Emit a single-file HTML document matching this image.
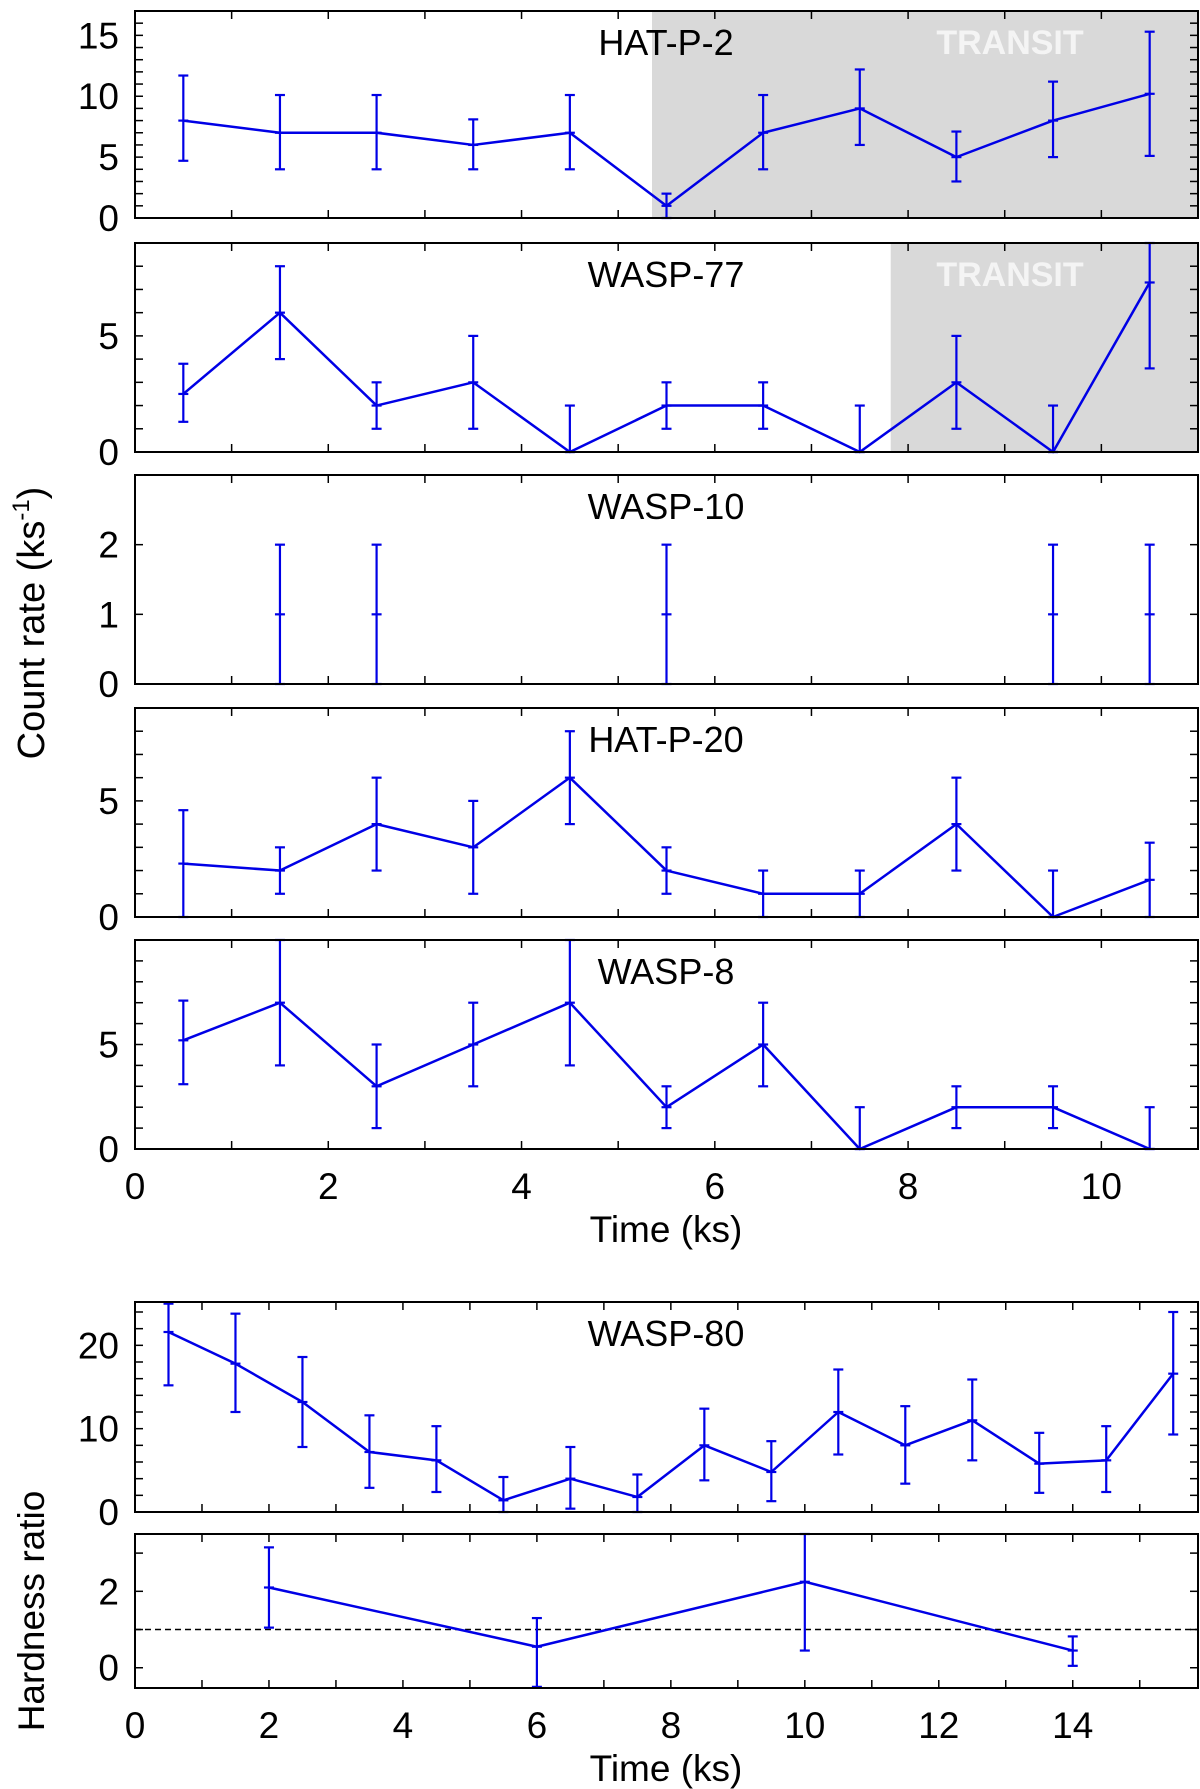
<!DOCTYPE html>
<html><head><meta charset="utf-8"><style>
html,body{margin:0;padding:0;background:#fff}
svg{display:block;font-family:"Liberation Sans",Helvetica,Arial,sans-serif}
</style></head><body>
<svg id="fig" width="1200" height="1789" viewBox="0 0 1200 1789" xmlns="http://www.w3.org/2000/svg">
<text transform="translate(44,623) rotate(-90)" text-anchor="middle" font-size="38">Count rate (ks<tspan dy="-15" font-size="24">-1</tspan><tspan dy="15">)</tspan></text>
<text transform="translate(44,1611) rotate(-90)" text-anchor="middle" font-size="37">Hardness ratio</text>
</svg>
<script>
const NS='http://www.w3.org/2000/svg';
const svg=document.getElementById('fig');
// ---- data ----
const xTop=[0.5,1.5,2.5,3.5,4.5,5.5,6.5,7.5,8.5,9.5,10.5];
const hatp2Y=[8,7,7,6,7,1,7,9,5,8,10.2];
const hatp2Lo=[4.7,4,4,4,4,0,4,6,3,5,5.1];
const hatp2Hi=[11.7,10.1,10.1,8.1,10.1,2,10.1,12.2,7.1,11.2,15.3];
const wasp77Y=[2.5,6,2,3,0,2,2,0,3,0,7.3];
const wasp77Lo=[1.3,4,1,1,0,1,1,0,1,0,3.6];
const wasp77Hi=[3.8,8,3,5,2,3,3,2,5,2,9];
const wasp10X=[1.5,2.5,5.5,9.5,10.5];
const wasp10Y=[1,1,1,1,1];
const wasp10Lo=[0,0,0,0,0];
const wasp10Hi=[2,2,2,2,2];
const hatp20Y=[2.3,2,4,3,6,2,1,1,4,0,1.6];
const hatp20Lo=[0,1,2,1,4,1,0,0,2,0,0];
const hatp20Hi=[4.6,3,6,5,8,3,2,2,6,2,3.2];
const wasp8Y=[5.2,7,3,5,7,2,5,0,2,2,0];
const wasp8Lo=[3.1,4,1,3,4,1,3,0,1,1,0];
const wasp8Hi=[7.1,10,5,7,10,3,7,2,3,3,2];
const xW80=[0.5,1.5,2.5,3.5,4.5,5.5,6.5,7.5,8.5,9.5,10.5,11.5,12.5,13.5,14.5,15.5];
const wasp80Y=[21.6,17.8,13.2,7.2,6.2,1.4,4,1.8,8,4.8,12,8,11,5.8,6.2,16.6];
const wasp80Lo=[15.2,12,7.8,2.9,2.4,0,0.4,0,3.8,1.3,6.9,3.4,6.2,2.3,2.4,9.3];
const wasp80Hi=[25,23.8,18.6,11.6,10.3,4.2,7.8,4.5,12.4,8.5,17.1,12.7,15.9,9.5,10.3,24];
const xHR=[2,6,10,14];
const hrY=[2.1,0.55,2.25,0.45];
const hrLo=[1.05,-0.5,0.45,0.05];
const hrHi=[3.15,1.3,3.5,0.82];
const topXTickLabels=['0','2','4','6','8','10'];
const botXTickLabels=['0','2','4','6','8','10','12','14'];

function el(tag,attrs,parent){const e=document.createElementNS(NS,tag);for(const k in attrs)e.setAttribute(k,attrs[k]);(parent||svg).appendChild(e);return e;}

function panel(o){
  const g=el('g',{});
  
  
  const X=v=>o.x0+(v-o.xmin)/(o.xmax-o.xmin)*(o.x1-o.x0);
  const Y=v=>o.y1-(v-o.ymin)/(o.ymax-o.ymin)*(o.y1-o.y0);
  if(o.shade!=null){
    const r=el('rect',{x:X(o.shade),y:o.y0,width:o.x1-X(o.shade),height:o.y1-o.y0,fill:'#d9d9d9'},g);
    
    
    const t=el('text',{x:1010,y:o.y0+43,'text-anchor':'middle','font-size':34,'font-weight':'bold',fill:'#f4f4f4'},g);
    t.textContent='TRANSIT';
    
    
  }
  for(let v=Math.ceil(o.xmin);v<=o.xmax;v+=1){
    const x=X(v);
    el('line',{x1:x,x2:x,y1:o.y1,y2:o.y1-8,stroke:'#000','stroke-width':1.5},g);
    el('line',{x1:x,x2:x,y1:o.y0,y2:o.y0+8,stroke:'#000','stroke-width':1.5},g);
  }
  for(let v=Math.ceil(o.ymin/o.yminor)*o.yminor;v<=o.ymax+1e-9;v+=o.yminor){
    const y=Y(v);
    el('line',{x1:o.x0,x2:o.x0+8,y1:y,y2:y,stroke:'#000','stroke-width':1.5},g);
    el('line',{x1:o.x1,x2:o.x1-8,y1:y,y2:y,stroke:'#000','stroke-width':1.5},g);
  }
  o.yticks.forEach(v=>{
    const t=el('text',{x:o.x0-16,y:Y(v)+13,'text-anchor':'end','font-size':37},g);
    t.textContent=String(v);
    
    
  });
  if(o.dashed!=null){
    el('line',{x1:o.x0,x2:o.x1,y1:Y(o.dashed),y2:Y(o.dashed),stroke:'#000','stroke-width':1.5,'stroke-dasharray':'6,4'},g);
  }
  if(o.line){
    const p=el('polyline',{points:o.xs.map((x,i)=>X(x)+','+Y(o.ys[i])).join(' '),fill:'none',stroke:'#0000e6','stroke-width':2.5,'stroke-linejoin':'round'},g);
    
    
  }
  o.xs.forEach((xv,i)=>{
    const x=X(xv),hi=Math.max(Y(o.hi[i]),o.y0),loY=Y(o.lo[i]);
    const eg=el('g',{stroke:'#0000e6','stroke-width':2.2},g);
    
    
    el('line',{x1:x,x2:x,y1:loY,y2:hi},eg);
    el('line',{x1:x-5,x2:x+5,y1:loY,y2:loY},eg);
    el('line',{x1:x-5,x2:x+5,y1:hi,y2:hi},eg);
    el('line',{x1:x-5,x2:x+5,y1:Y(o.ys[i]),y2:Y(o.ys[i])},eg);
  });
  const f=el('rect',{x:o.x0,y:o.y0,width:o.x1-o.x0,height:o.y1-o.y0,fill:'none',stroke:'#000','stroke-width':2},g);
  
  
  const t=el('text',{x:666,y:o.y0+44,'text-anchor':'middle','font-size':36},g);
  t.textContent=o.title;
  
  
  return {X,Y};
}
const L=135,R=1198;
panel({name:'hat-p-2',title:'HAT-P-2',x0:L,x1:R,y0:11,y1:218,xmin:0,xmax:11,ymin:0,ymax:17,yminor:1,yticks:[0,5,10,15],xs:xTop,ys:hatp2Y,lo:hatp2Lo,hi:hatp2Hi,line:true,shade:5.35});
panel({name:'wasp-77',title:'WASP-77',x0:L,x1:R,y0:243,y1:452,xmin:0,xmax:11,ymin:0,ymax:9,yminor:1,yticks:[0,5],xs:xTop,ys:wasp77Y,lo:wasp77Lo,hi:wasp77Hi,line:true,shade:7.82});
panel({name:'wasp-10',title:'WASP-10',x0:L,x1:R,y0:475,y1:684,xmin:0,xmax:11,ymin:0,ymax:3,yminor:1,yticks:[0,1,2],xs:wasp10X,ys:wasp10Y,lo:wasp10Lo,hi:wasp10Hi,line:false});
panel({name:'hat-p-20',title:'HAT-P-20',x0:L,x1:R,y0:708,y1:917,xmin:0,xmax:11,ymin:0,ymax:9,yminor:1,yticks:[0,5],xs:xTop,ys:hatp20Y,lo:hatp20Lo,hi:hatp20Hi,line:true});
const p5=panel({name:'wasp-8',title:'WASP-8',x0:L,x1:R,y0:940,y1:1149,xmin:0,xmax:11,ymin:0,ymax:10,yminor:1,yticks:[0,5],xs:xTop,ys:wasp8Y,lo:wasp8Lo,hi:wasp8Hi,line:true});
topXTickLabels.forEach(s=>{
  const t=el('text',{x:p5.X(+s),y:1199,'text-anchor':'middle','font-size':37});
  t.textContent=s;
  
  
});
let t1=el('text',{x:666,y:1242,'text-anchor':'middle','font-size':37});t1.textContent='Time (ks)';


panel({name:'wasp-80',title:'WASP-80',x0:L,x1:R,y0:1302,y1:1512,xmin:0,xmax:15.87,ymin:0,ymax:25.2,yminor:2,yticks:[0,10,20],xs:xW80,ys:wasp80Y,lo:wasp80Lo,hi:wasp80Hi,line:true});
const p7=panel({name:'hardness',title:'',x0:L,x1:R,y0:1534,y1:1688,xmin:0,xmax:15.87,ymin:-0.53,ymax:3.5,yminor:1,yticks:[0,2],xs:xHR,ys:hrY,lo:hrLo,hi:hrHi,line:true,dashed:1});
botXTickLabels.forEach(s=>{
  const t=el('text',{x:p7.X(+s),y:1738,'text-anchor':'middle','font-size':37});
  t.textContent=s;
  
  
});
let t2=el('text',{x:666,y:1781,'text-anchor':'middle','font-size':37});t2.textContent='Time (ks)';


</script>
</body></html>
